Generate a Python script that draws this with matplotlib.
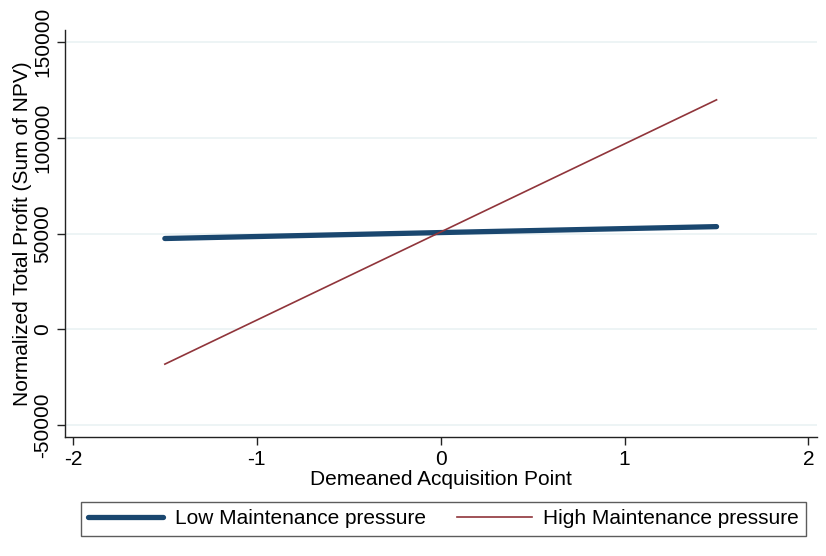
import matplotlib
matplotlib.use("Agg")
import matplotlib.pyplot as plt

# --- Data ---
x_points = [-1.5, 1.5]
low_pressure = [47400, 53600]
high_pressure = [-18200, 119800]
x_ticks = [-2, -1, 0, 1, 2]
y_ticks = [-50000, 0, 50000, 100000, 150000]

LOW_COLOR = "#1a476f"
HIGH_COLOR = "#90353b"
FS = 15

plt.rcParams["font.family"] = ["Liberation Sans", "DejaVu Sans"]

fig = plt.figure(figsize=(8.26, 5.56), dpi=100)
ax = fig.add_axes([0.0787, 0.214, 0.911, 0.732])

ax.plot(x_points, low_pressure, color=LOW_COLOR, lw=3.8, solid_capstyle="round",
        label="Low Maintenance pressure", zorder=3)
ax.plot(x_points, high_pressure, color=HIGH_COLOR, lw=1.2,
        label="High Maintenance pressure", zorder=4)

ax.set_xlim(-2.043, 2.049)
ax.set_ylim(-56250, 156250)
ax.set_xticks(x_ticks)
ax.set_yticks(y_ticks)
ax.set_xticklabels([str(t) for t in x_ticks], fontsize=FS)
ax.set_yticklabels([str(t) for t in y_ticks], fontsize=FS, rotation=90, va="center")

for y in y_ticks:
    ax.axhline(y, color="#eaf2f3", lw=1.2, zorder=1)

for s in ["top", "right"]:
    ax.spines[s].set_visible(False)
for s in ["left", "bottom"]:
    ax.spines[s].set_color("#222222")
    ax.spines[s].set_linewidth(1.0)
ax.tick_params(direction="out", length=6, width=1, color="#222222", pad=3)

ax.set_xlabel("Demeaned Acquisition Point", fontsize=FS, labelpad=1)
ax.set_ylabel("Normalized Total Profit (Sum of NPV)", fontsize=FS, labelpad=1)

# legend box below the plot, Stata style
fig.legend(loc="center", bbox_to_anchor=(0.537, 0.067), ncol=2,
           fontsize=FS, frameon=True, fancybox=False,
           edgecolor="#333333", handlelength=3.6, handletextpad=0.55,
           columnspacing=1.5, borderpad=0.35, borderaxespad=0)

fig.savefig("out.png", dpi=100, facecolor="white")
